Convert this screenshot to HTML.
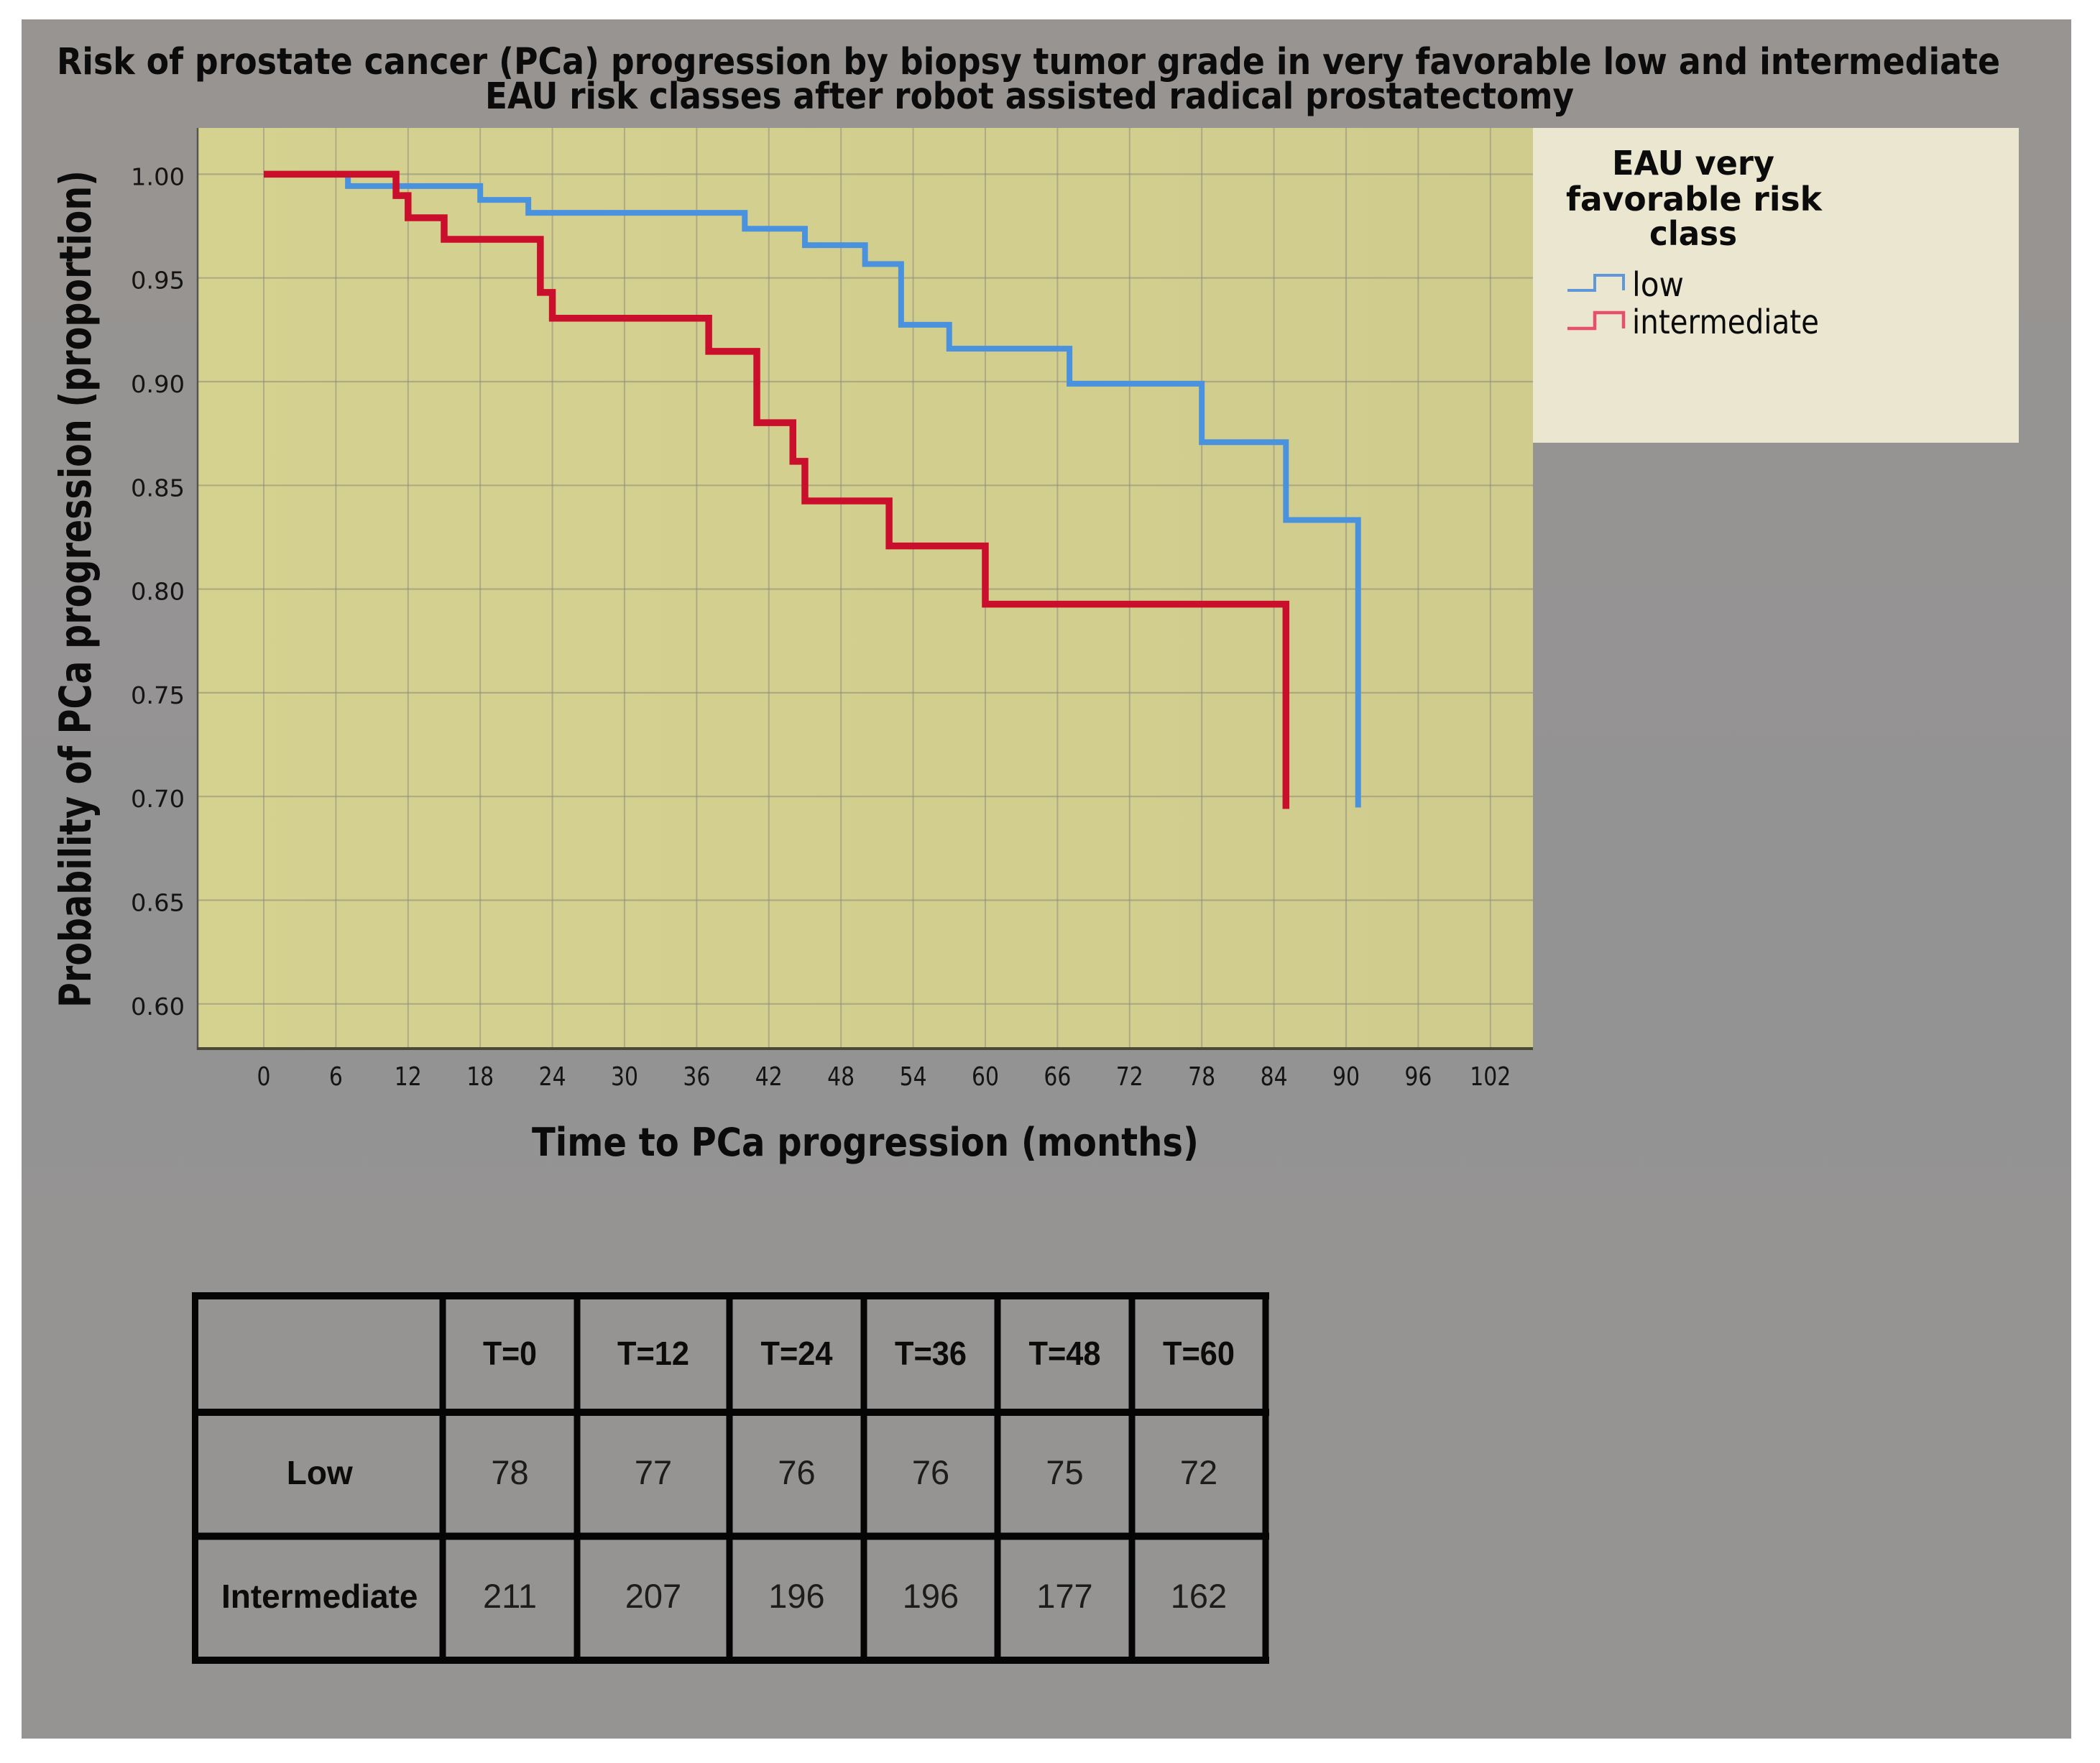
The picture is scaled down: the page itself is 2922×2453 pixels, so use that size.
<!DOCTYPE html>
<html lang="en">
<head>
<meta charset="utf-8">
<title>Risk of prostate cancer progression</title>
<style>
html,body{margin:0;padding:0;background:#fff;width:2922px;height:2453px;overflow:hidden}
svg{display:block}
text{fill:#0b0b0b}
.dj{font-family:"DejaVu Sans","Liberation Sans",sans-serif}
.djb{font-family:"DejaVu Sans","Liberation Sans",sans-serif;font-weight:bold}
.tick{font-family:"DejaVu Sans","Liberation Sans",sans-serif;fill:#141414}
.ls{font-family:"Liberation Sans",sans-serif;fill:#1c1c1c}
.lsb{font-family:"Liberation Sans",sans-serif;font-weight:bold}
</style>
</head>
<body>
<svg id="root" xmlns="http://www.w3.org/2000/svg" width="2922" height="2453" viewBox="0 0 2922 2453">
  <defs>
    <linearGradient id="bgGrad" x1="0" y1="0" x2="0" y2="1">
      <stop offset="0" stop-color="#989491"/>
      <stop offset="0.5" stop-color="#949394"/>
      <stop offset="1" stop-color="#969492"/>
    </linearGradient>
    <linearGradient id="plotGrad" x1="0" y1="0" x2="1" y2="0">
      <stop offset="0" stop-color="#d5d18f"/>
      <stop offset="1" stop-color="#d0cc8e"/>
    </linearGradient>
  </defs>
  <rect x="30" y="27" width="2852" height="2392" fill="url(#bgGrad)"/>

  <text class="djb" x="79" y="103" font-size="51" textLength="2704" lengthAdjust="spacingAndGlyphs">Risk of prostate cancer (PCa) progression by biopsy tumor grade in very favorable low and intermediate</text>
  <text class="djb" x="675" y="151" font-size="51" textLength="1515" lengthAdjust="spacingAndGlyphs">EAU risk classes after robot assisted radical prostatectomy</text>

  <rect x="275" y="178" width="1858" height="1281" fill="url(#plotGrad)"/>
  <g id="grid"></g>
  <g id="series"></g>
  <line x1="275" y1="178" x2="275" y2="1461" stroke="#55544e" stroke-width="2.5"/>
  <line x1="274" y1="1459" x2="2133" y2="1459" stroke="#4a4938" stroke-width="4"/>
  <g id="xticks"></g>
  <g id="yticks"></g>

  <text class="djb" x="740" y="1608" font-size="54" textLength="928" lengthAdjust="spacingAndGlyphs">Time to PCa progression (months)</text>
  <text class="djb" transform="translate(126,1402) rotate(-90)" x="0" y="0" font-size="61" textLength="1165" lengthAdjust="spacingAndGlyphs">Probability of PCa progression (proportion)</text>

  <g>
    <rect x="2133" y="178" width="676" height="438" fill="#ebe6cf"/>
    <text class="djb" x="2243" y="243" font-size="46" textLength="226" lengthAdjust="spacingAndGlyphs">EAU very</text>
    <text class="djb" x="2179" y="293" font-size="46" textLength="356" lengthAdjust="spacingAndGlyphs">favorable risk</text>
    <text class="djb" x="2295" y="341" font-size="46" textLength="122" lengthAdjust="spacingAndGlyphs">class</text>
    <path d="M2181 404H2219V383H2259V404" fill="none" stroke="#5f97d8" stroke-width="4"/>
    <text class="dj" x="2271" y="412" font-size="46" textLength="72" lengthAdjust="spacingAndGlyphs">low</text>
    <path d="M2181 457H2219V435H2259V457" fill="none" stroke="#e8506a" stroke-width="4.5"/>
    <text class="dj" x="2271" y="464" font-size="46" textLength="260" lengthAdjust="spacingAndGlyphs">intermediate</text>
  </g>

  <g id="table"></g>
</svg>

<script>
// Chart data
const xTickValues = [0, 6, 12, 18, 24, 30, 36, 42, 48, 54, 60, 66, 72, 78, 84, 90, 96, 102];
const yTickValues = [1.00, 0.95, 0.90, 0.85, 0.80, 0.75, 0.70, 0.65, 0.60];
const yTickLabels = ['1.00', '0.95', '0.90', '0.85', '0.80', '0.75', '0.70', '0.65', '0.60'];
const lowTimes = [0, 7, 18, 22, 40, 45, 50, 53, 57, 67, 78, 85, 91];
const lowSurvival = [1, 0.9943, 0.9876, 0.9814, 0.9737, 0.9658, 0.9567, 0.9274, 0.9159, 0.899, 0.8708, 0.8333, 0.6947];
const intermediateTimes = [0, 11, 12, 15, 23, 24, 37, 41, 44, 45, 52, 60, 85];
const intermediateSurvival = [1, 0.9897, 0.979, 0.9686, 0.943, 0.9306, 0.9146, 0.8802, 0.8616, 0.8425, 0.8208, 0.7927, 0.694];

// Table data
const tableHeaders = ['T=0', 'T=12', 'T=24', 'T=36', 'T=48', 'T=60'];
const tableRowNames = ['Low', 'Intermediate'];
const tableLowCounts = [78, 77, 76, 76, 75, 72];
const tableIntermediateCounts = [211, 207, 196, 196, 177, 162];

const SVGNS = 'http://www.w3.org/2000/svg';
function xScale(t) { return 367 + t * 16.733; }
function yScale(v) { return 242.4 + (1 - v) * 2886; }
function make(parent, tag, props, content) {
  const el = document.createElementNS(SVGNS, tag);
  for (const k in props) el.setAttribute(k, props[k]);
  if (content !== undefined) el.textContent = content;
  parent.appendChild(el);
  return el;
}
function stepPath(times, values) {
  let d = 'M' + xScale(times[0]) + ' ' + yScale(values[0]);
  for (let i = 1; i < times.length; i++) {
    d += 'H' + xScale(times[i]) + 'V' + yScale(values[i]);
  }
  return d;
}

const grid = document.getElementById('grid');
xTickValues.forEach(function (t) {
  const l = make(grid, 'line', { x1: xScale(t), x2: xScale(t), y1: 178, y2: 1458, stroke: '#8e8c80', 'stroke-width': 2, 'stroke-opacity': 0.55 });
  
  
});
yTickValues.forEach(function (v) {
  const l = make(grid, 'line', { x1: 276, x2: 2133, y1: yScale(v), y2: yScale(v), stroke: '#8e8c78', 'stroke-width': 2.2, 'stroke-opacity': 0.55 });
  
  
});

const series = document.getElementById('series');
const lowLine = make(series, 'path', { d: stepPath(lowTimes, lowSurvival), fill: 'none', stroke: '#4a92de', 'stroke-width': 8, 'stroke-linejoin': 'miter' });


const intermediateLine = make(series, 'path', { d: stepPath(intermediateTimes, intermediateSurvival), fill: 'none', stroke: '#c90f2b', 'stroke-width': 9.5, 'stroke-linejoin': 'miter' });



const xticks = document.getElementById('xticks');
xTickValues.forEach(function (t) {
  const label = String(t);
  const el = make(xticks, 'text', { x: xScale(t), y: 1510, 'text-anchor': 'middle', 'font-size': 36, textLength: label.length * 19, lengthAdjust: 'spacingAndGlyphs', class: 'tick' }, label);
  
  
});

const yticks = document.getElementById('yticks');
yTickValues.forEach(function (v, i) {
  const el = make(yticks, 'text', { x: 182, y: yScale(v) + 15, 'font-size': 33, textLength: 75, lengthAdjust: 'spacingAndGlyphs', class: 'tick' }, yTickLabels[i]);
  
  
});

// Table
const table = document.getElementById('table');
const colEdges = [271.5, 616, 803, 1015, 1202, 1388, 1575, 1761];
const rowEdges = [1803, 1965, 2137.5, 2310];
const rowBaselines = [1899, 2065, 2237];
rowEdges.forEach(function (y) {
  const l = make(table, 'line', { x1: 267, x2: 1766, y1: y, y2: y, stroke: '#050505', 'stroke-width': 10 });
  
  
});
colEdges.forEach(function (x) {
  const l = make(table, 'line', { x1: x, x2: x, y1: 1798, y2: 2315, stroke: '#050505', 'stroke-width': 9 });
  
  
});
function colCenter(i) { return (colEdges[i] + colEdges[i + 1]) / 2; }
tableHeaders.forEach(function (h, i) {
  const el = make(table, 'text', { x: colCenter(i + 1), y: rowBaselines[0], 'text-anchor': 'middle', 'font-size': 46, textLength: h.length * 25, lengthAdjust: 'spacingAndGlyphs', class: 'lsb' }, h);
  
  
});
tableRowNames.forEach(function (n, i) {
  const el = make(table, 'text', { x: colCenter(0) + 1, y: rowBaselines[i + 1], 'text-anchor': 'middle', 'font-size': 46, class: 'lsb' }, n);
  
  
});
tableLowCounts.forEach(function (c, i) {
  const el = make(table, 'text', { x: colCenter(i + 1), y: rowBaselines[1], 'text-anchor': 'middle', 'font-size': 47, class: 'ls' }, String(c));
  
  
});
tableIntermediateCounts.forEach(function (c, i) {
  const el = make(table, 'text', { x: colCenter(i + 1), y: rowBaselines[2], 'text-anchor': 'middle', 'font-size': 47, class: 'ls' }, String(c));
  
  
});
</script>
</body>
</html>
